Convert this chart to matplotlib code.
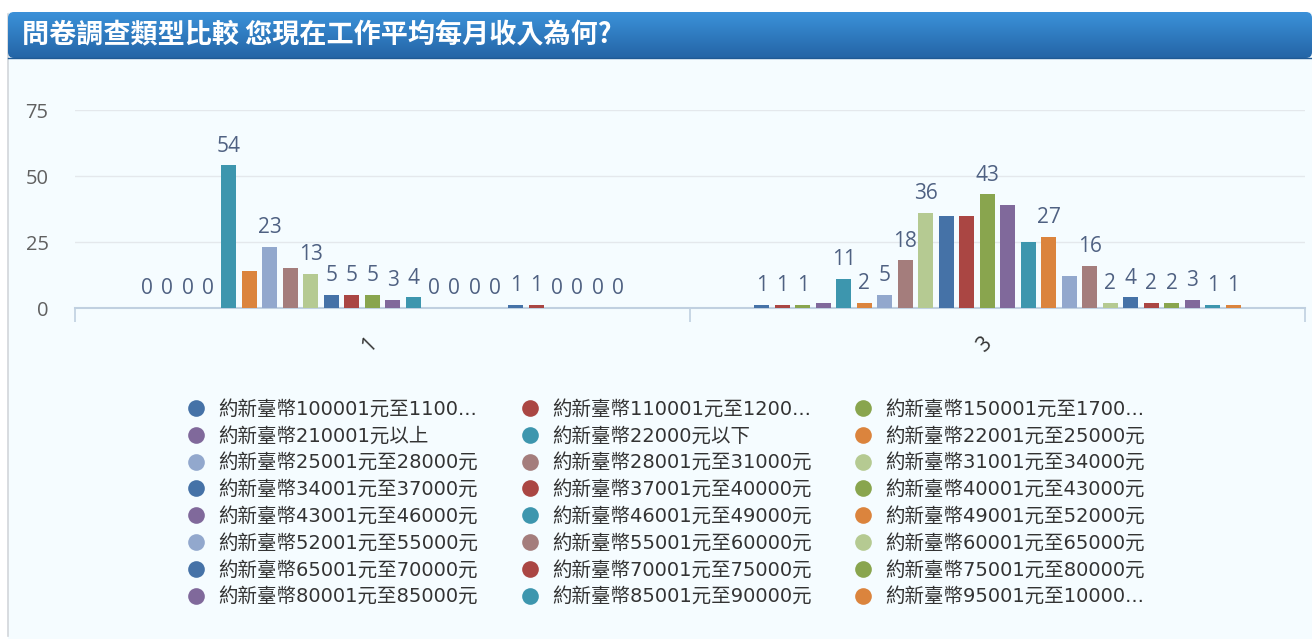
import matplotlib
matplotlib.use('Agg')
import matplotlib.pyplot as plt
import numpy as np
from matplotlib.patches import FancyBboxPatch, Rectangle
from matplotlib.colors import LinearSegmentedColormap
import matplotlib.transforms as mtransforms

plt.rcParams['font.family'] = ['DejaVu Sans', 'Noto Sans CJK TC']

title = '問卷調查類型比較 您現在工作平均每月收入為何?'
categories = ['1', '3']
series_names = [
    '約新臺幣100001元至1100...', '約新臺幣110001元至1200...', '約新臺幣150001元至1700...',
    '約新臺幣210001元以上', '約新臺幣22000元以下', '約新臺幣22001元至25000元',
    '約新臺幣25001元至28000元', '約新臺幣28001元至31000元', '約新臺幣31001元至34000元',
    '約新臺幣34001元至37000元', '約新臺幣37001元至40000元', '約新臺幣40001元至43000元',
    '約新臺幣43001元至46000元', '約新臺幣46001元至49000元', '約新臺幣49001元至52000元',
    '約新臺幣52001元至55000元', '約新臺幣55001元至60000元', '約新臺幣60001元至65000元',
    '約新臺幣65001元至70000元', '約新臺幣70001元至75000元', '約新臺幣75001元至80000元',
    '約新臺幣80001元至85000元', '約新臺幣85001元至90000元', '約新臺幣95001元至10000...',
]
palette = ['#4572A7', '#AA4643', '#89A54E', '#80699B', '#3D96AE',
           '#DB843D', '#92A8CD', '#A47D7C', '#B5CA92']
series_colors = [palette[i % len(palette)] for i in range(len(series_names))]

values_cat1 = [0, 0, 0, 0, 54, 14, 23, 15, 13, 5, 5, 5, 3, 4, 0, 0, 0, 0, 1, 1, 0, 0, 0, 0]
values_cat3 = [1, 1, 1, 2, 11, 2, 5, 18, 36, 35, 35, 43, 39, 25, 27, 12, 16, 2, 4, 2, 2, 3, 1, 1]
# data labels hidden by the chart's overlap handling
hidden_cat1 = [5, 7]
hidden_cat3 = [3, 9, 10, 12, 13, 15]
y_ticks = [0, 25, 50, 75]

W, H = 1312, 639
fig = plt.figure(figsize=(W / 100, H / 100), dpi=100)
fig.patch.set_facecolor('white')

# background / frame / header in pixel coordinates
bg = fig.add_axes([0, 0, 1, 1], zorder=0)
bg.set_xlim(0, W)
bg.set_ylim(H, 0)
bg.axis('off')
bg.add_patch(Rectangle((8, 12), W - 8, H - 12, facecolor='#F5FCFF',
                       edgecolor='none'))
bg.plot([8, 8], [14, H - 3], color='#D2D6DA', lw=1.2, zorder=2)
grad = np.linspace(0, 1, 64).reshape(-1, 1)
cmap = LinearSegmentedColormap.from_list('hdr', ['#3B91D9', '#2465A6'])
im = bg.imshow(grad, extent=[8, W, 58, 12], cmap=cmap, aspect='auto', zorder=2)
clip = FancyBboxPatch((8, 12), W - 8, 46, boxstyle='round,pad=0,rounding_size=6',
                      transform=bg.transData, facecolor='none', edgecolor='none')
bg.add_patch(clip)
im.set_clip_path(clip)
bg.plot([8, W], [58, 58], color='#1F5A94', lw=1, zorder=3)
bg.text(22, 35, title, color='white', fontsize=19.5, fontweight='bold',
        family=['Noto Sans CJK TC', 'DejaVu Sans'], va='center', ha='left', zorder=4)

# legend (row-major, 3 columns)
col_x = [196, 530, 863]
row_y0, row_dy = 408, 26.8
for i, (name, col) in enumerate(zip(series_names, series_colors)):
    r, c = divmod(i, 3)
    y = row_y0 + r * row_dy
    bg.plot([col_x[c]], [y], 'o', ms=12, color=col, mec='none', zorder=3)
    bg.text(col_x[c] + 22, y + 1, name, fontsize=14, color='#333333',
            va='center', ha='left', zorder=3)

# main chart
ax = fig.add_axes([75 / W, 1 - 308 / H, (1305 - 75) / W, (308 - 110) / H], zorder=1)
ax.set_facecolor('none')
n = len(series_names)
x_base = np.arange(len(categories))
pitch = 0.8 / n
bar_w = pitch * 0.72
num_font = ['Open Sans', 'DejaVu Sans']
for i in range(n):
    xs = x_base + (i - (n - 1) / 2) * pitch
    vals = [values_cat1[i], values_cat3[i]]
    ax.bar(xs, vals, width=bar_w, color=series_colors[i], zorder=3, linewidth=0)
    hidden = [i in hidden_cat1, i in hidden_cat3]
    for xv, v, hid in zip(xs, vals, hidden):
        if hid:
            continue
        ax.annotate(str(v), (xv, v), xytext=(0, 10), textcoords='offset points',
                    ha='center', va='baseline', fontsize=15, color='#4F6182',
                    family=num_font, zorder=4)

ax.set_xlim(-0.5, len(categories) - 0.5)
ax.set_ylim(0, 75)
ax.set_yticks(y_ticks)
ax.set_yticklabels([str(t) for t in y_ticks], family=num_font, fontsize=14.5, color='#606060')
ax.tick_params(axis='y', length=0, pad=19)
ax.yaxis.grid(True, color='#E4E8EC', lw=1, zorder=0)
ax.set_xticks(x_base)
ax.set_xticklabels([])
ax.set_xticks(np.arange(len(categories) + 1) - 0.5, minor=True)
ax.tick_params(axis='x', which='major', length=0)
ax.tick_params(axis='x', which='minor', length=10, color='#C0D0E0', width=1.2, direction='out')
for s in ['top', 'right', 'left']:
    ax.spines[s].set_visible(False)
ax.spines['bottom'].set_color('#C0D0E0')
ax.spines['bottom'].set_linewidth(1.5)
ax.set_axisbelow(True)

off = mtransforms.ScaledTranslation(-13.5 / 100, -37 / 100, fig.dpi_scale_trans)
for j, cat in enumerate(categories):
    ax.text(j, 0, cat, transform=ax.get_xaxis_transform() + off, rotation=45,
            ha='center', va='center', fontsize=15, color='#333333', family=num_font)

fig.savefig('out.png', dpi=100, facecolor=fig.get_facecolor())
